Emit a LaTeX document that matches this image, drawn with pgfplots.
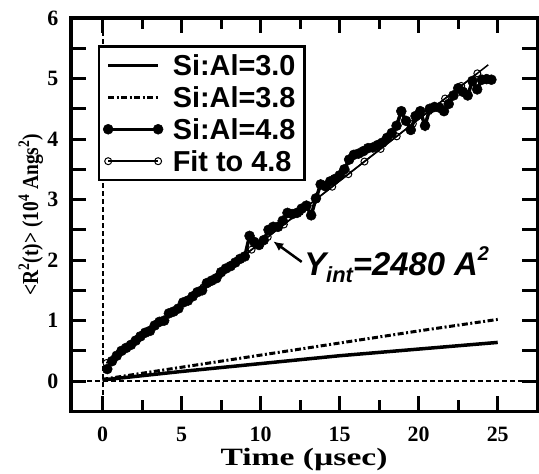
\documentclass[border=0pt]{standalone}
\usepackage{fontspec}
\setmainfont{Liberation Serif}
\newfontfamily\sansfont{Liberation Sans}
\usepackage{pgfplots}
\pgfplotsset{compat=1.18}
\usetikzlibrary{arrows.meta}

\begin{document}
\begin{tikzpicture}
\begin{axis}[
  scale only axis, width=467bp, height=394bp,
  xmin=-2, xmax=27.5, ymin=-0.5, ymax=6,
  xtick={0,5,10,15,20,25}, minor xtick={2.5,7.5,12.5,17.5,22.5},
  ytick={0,0.5,1,1.5,2,2.5,3,3.5,4,4.5,5,5.5,6},
  yticklabels={0,,1,,2,,3,,4,,5,,6},
  tick align=inside, major tick length=15bp, minor tick length=11bp,
  every tick/.style={line width=3bp, black},
  axis line style={line width=3.5bp},
  /pgf/number format/assume math mode=true,
  ticklabel style={font=\fontsize{22}{22}\selectfont\bfseries},
  xticklabel style={yshift=-12bp},
  yticklabel style={xshift=-9bp},
  xlabel={\scalebox{1.35}[1]{\fontsize{25}{25}\selectfont\bfseries Time (µsec)}},
  ylabel={\scalebox{0.85}[1]{\fontsize{23}{23}\selectfont\bfseries <R\textsuperscript{2}(t)> (10\textsuperscript{4} Angs\textsuperscript{2})}},
  every axis x label/.style={at={(rel axis cs:0.5,0)}, yshift=-48bp, anchor=center},
  every axis y label/.style={at={(rel axis cs:0,0.5)}, xshift=-40bp, rotate=90, anchor=center},
  legend cell align=left,
  legend style={at={(0.058,0.931)}, anchor=north west, draw=black, line width=2.5bp,
    font=\sansfont\fontsize{29}{29}\selectfont\bfseries,
    row sep=12bp, inner xsep=4bp, inner ysep=9bp,
    nodes={text height=20bp, text depth=0bp, inner ysep=0bp, inner xsep=5bp}},
  legend image code/.code={\draw[#1] plot coordinates {(0bp,0bp) (50bp,0bp)}; \path (-1bp,0bp) (58bp,0bp);},
]
% reference dashed lines
\addplot[forget plot, black, line width=2bp, dash pattern=on 5bp off 3bp] coordinates {(0,-0.5) (0,6)};
\addplot[forget plot, black, line width=2bp, dash pattern=on 5bp off 3bp] coordinates {(-2,0) (27.5,0)};

\addplot[black, line width=3.5bp] coordinates {(0,0.02) (5,0.16) (10,0.29) (15,0.42) (20,0.53) (25,0.64)};
\addlegendentry{Si:Al=3.0}

\addplot[black, line width=3bp, dash pattern=on 6bp off 2.5bp on 2bp off 2.5bp] coordinates {(0,0.03) (5,0.23) (10,0.43) (15,0.63) (20,0.83) (25,1.02)};
\addlegendentry{Si:Al=3.8}

\addplot[black, line width=3.5bp, mark=*, mark size=5bp, mark options={line width=0.5bp}] coordinates {
(0.3,0.20) (0.6,0.33) (0.9,0.42) (1.2,0.50) (1.5,0.55) (1.8,0.60) (2.1,0.67) (2.4,0.74)
(2.7,0.80) (3.0,0.83) (3.3,0.92) (3.6,0.98) (3.9,1.00) (4.2,1.12) (4.5,1.15) (4.8,1.20)
(5.1,1.30) (5.4,1.33) (5.7,1.40) (6.0,1.47) (6.3,1.50) (6.6,1.62) (6.9,1.66) (7.2,1.70)
(7.5,1.80) (7.8,1.86) (8.1,1.90) (8.4,1.96) (8.7,2.02) (9.0,2.06) (9.3,2.40) (9.6,2.30)
(9.9,2.25) (10.2,2.33) (10.5,2.50) (10.8,2.55) (11.1,2.55) (11.4,2.65) (11.7,2.78) (12.0,2.76)
(12.3,2.78) (12.6,2.85) (12.9,2.90) (13.2,2.74) (13.5,3.02) (13.8,3.25) (14.1,3.22) (14.4,3.30)
(14.7,3.34) (15.0,3.40) (15.3,3.50) (15.6,3.66) (15.9,3.74) (16.2,3.76) (16.5,3.80) (16.8,3.85)
(17.1,3.86) (17.4,3.90) (17.7,3.94) (18.0,4.02) (18.3,4.10) (18.6,4.22) (18.9,4.46) (19.2,4.30)
(19.5,4.15) (19.8,4.38) (20.1,4.46) (20.4,4.22) (20.7,4.50) (21.0,4.53) (21.3,4.52) (21.6,4.46)
(21.9,4.58) (22.2,4.72) (22.5,4.84) (22.8,4.78) (23.1,4.72) (23.4,4.96) (23.7,4.82) (24.0,4.98)
(24.3,4.99) (24.6,4.98)};
\addlegendentry{Si:Al=4.8}

\addplot[forget plot, black, line width=1.5bp] coordinates {(0.25,0.299) (24.4,5.226)};
\addplot[black, line width=1.5bp, mark=o, mark size=3.5bp, mark options={fill=white, line width=1bp}] coordinates {
(0.25,0.299) (1.27,0.507) (2.29,0.715) (3.31,0.923) (4.33,1.131) (5.35,1.339) (6.37,1.547)
(7.39,1.756) (8.41,1.964) (9.43,2.172) (10.45,2.380) (11.47,2.588) (12.49,2.796) (13.51,3.004)
(14.53,3.212) (15.55,3.420) (16.57,3.628) (17.59,3.836) (18.61,4.044) (19.63,4.253)
(20.65,4.461) (21.67,4.669) (22.69,4.877) (23.71,5.085)};
\addlegendentry{Fit to 4.8}

\draw[line width=2.5bp, -{Latex[length=10bp,width=9bp]}] (axis cs:12.6,1.97) -- (axis cs:10.8,2.31);
\node[anchor=west, inner sep=0pt, font=\sansfont\bfseries\itshape\fontsize{33}{33}\selectfont]
  at (axis cs:12.75,1.92) {Y\raisebox{-7bp}{\fontsize{22}{22}\selectfont int}=2480 A\raisebox{15bp}{\fontsize{20}{20}\selectfont 2}};
\end{axis}
\path ([shift={(-71bp,-62bp)}]current axis.south west) rectangle ([shift={(1bp,18bp)}]current axis.north east);
\end{tikzpicture}
\end{document}
